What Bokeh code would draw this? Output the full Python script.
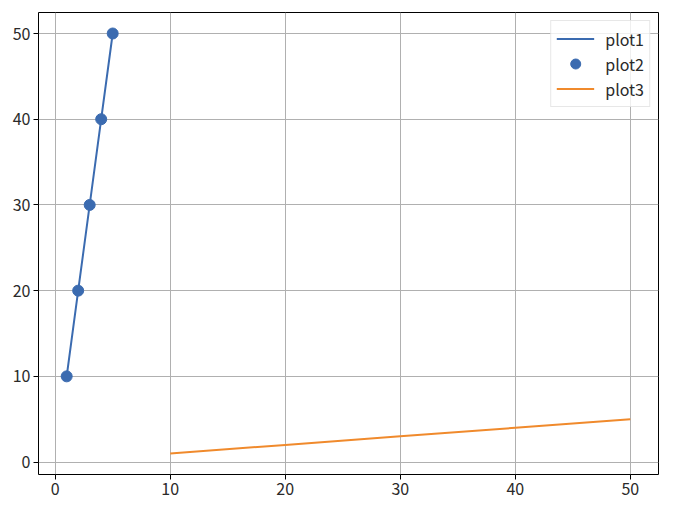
from bokeh.plotting import figure
from bokeh.models import Range1d, FixedTicker, Legend, LegendItem
from bokeh.embed import file_html
from bokeh.resources import INLINE

x1 = [1, 2, 3, 4, 5]
y1 = [10, 20, 30, 40, 50]
x3 = [10, 20, 30, 40, 50]
y3 = [1, 2, 3, 4, 5]
ticks = [0, 10, 20, 30, 40, 50]

BLUE = "#3b6bb0"
ORANGE = "#f08a2c"
FONT = "Noto Sans CJK JP"

p = figure(width=665, height=505, output_backend="svg", toolbar_location=None,
           x_range=Range1d(-1.45, 52.45), y_range=Range1d(-1.45, 52.45),
           min_border_left=38, min_border_right=7, min_border_top=12, min_border_bottom=31)

r1 = p.line(x1, y1, line_color=BLUE, line_width=2)
r2 = p.scatter(x1, y1, size=11, fill_color=BLUE, line_color=BLUE)
r3 = p.line(x3, y3, line_color=ORANGE, line_width=2)

for ax in (p.xaxis[0], p.yaxis[0]):
    ax.ticker = FixedTicker(ticks=ticks)
    ax.axis_line_color = None
    ax.major_tick_out = 5
    ax.major_tick_in = 0
    ax.minor_tick_out = 0
    ax.minor_tick_in = 0
    ax.major_tick_line_color = "black"
    ax.major_label_text_font = FONT
    ax.major_label_text_font_size = "16px"
    ax.major_label_text_color = "#2a2a2a"
    ax.major_label_standoff = 3

p.outline_line_color = "black"
p.outline_line_width = 1
p.xgrid.grid_line_color = "#b0b0b0"
p.ygrid.grid_line_color = "#b0b0b0"
p.xgrid.ticker = FixedTicker(ticks=ticks)
p.ygrid.ticker = FixedTicker(ticks=ticks)

legend = Legend(items=[LegendItem(label="plot1", renderers=[r1]),
                       LegendItem(label="plot2", renderers=[r2]),
                       LegendItem(label="plot3", renderers=[r3])],
                location="top_right")
legend.label_text_font = FONT
legend.label_text_font_size = "16px"
legend.label_text_color = "#2a2a2a"
legend.glyph_width = 38
legend.glyph_height = 25
legend.label_height = 25
legend.label_standoff = 11
legend.spacing = 0
legend.padding = 5
legend.margin = 8
legend.border_line_color = "#d0d0d0"
legend.border_line_width = 1
legend.background_fill_alpha = 0.8
p.add_layout(legend)

open("out.html", "w").write(file_html(p, INLINE))
